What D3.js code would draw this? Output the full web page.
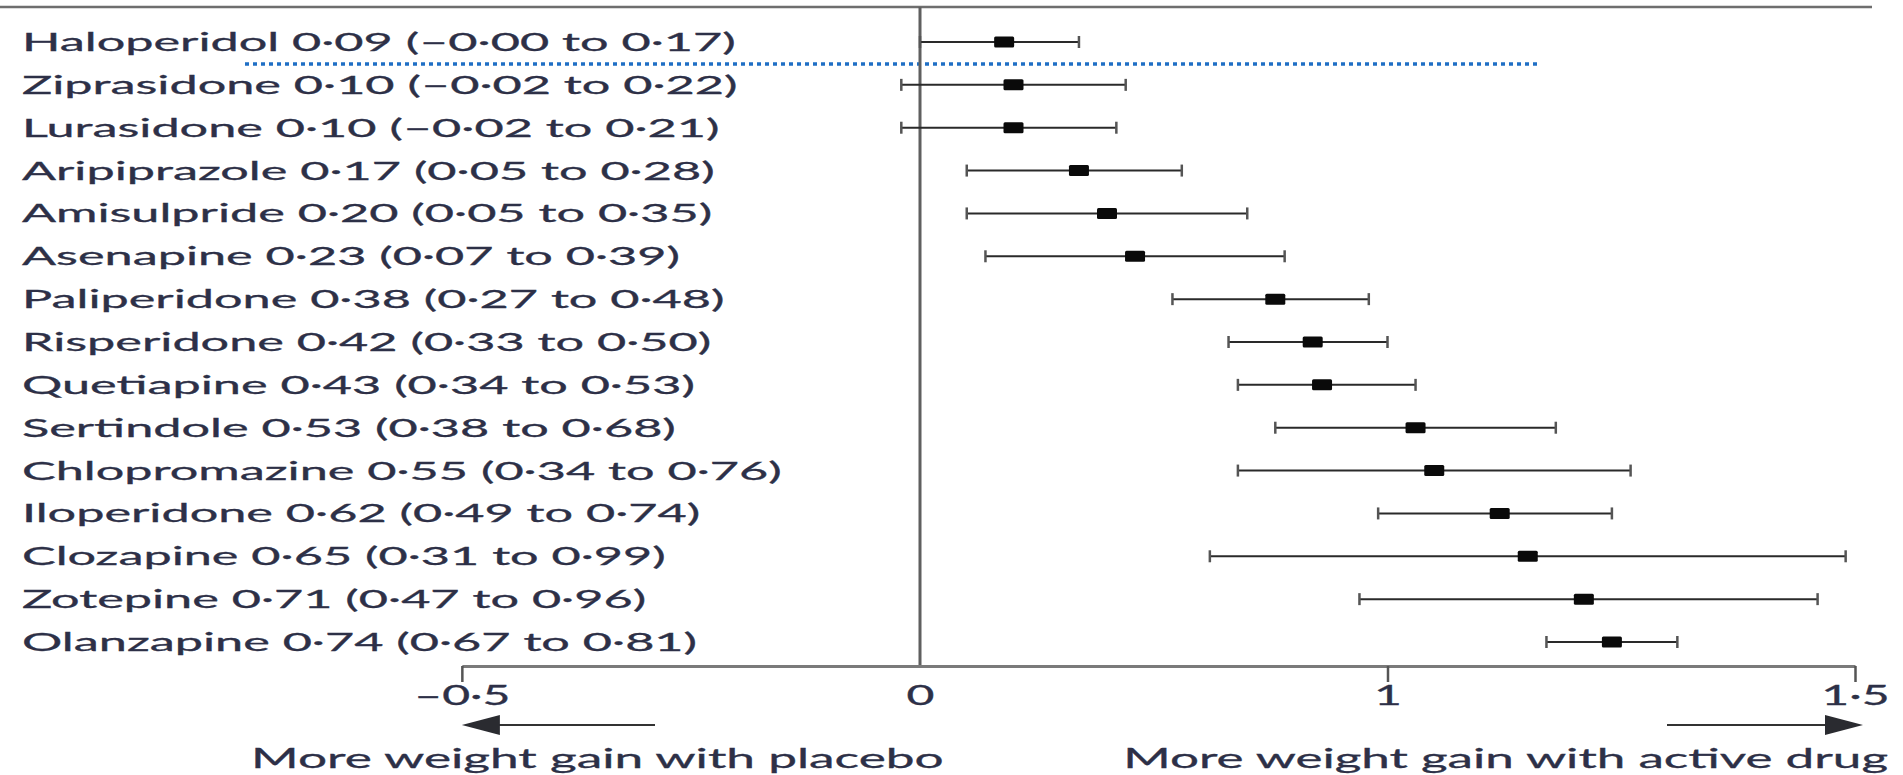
<!DOCTYPE html>
<html>
<head>
<meta charset="utf-8">
<script src="https://cdn.jsdelivr.net/npm/d3@7"></script>
<style>
  html, body { margin: 0; padding: 0; background: #ffffff; }
  svg { display: block; }
  text { font-family: Lato, "Open Sans", sans-serif; fill: #2d3047; stroke: #2d3047; stroke-width: 0.3px; }
</style>
</head>
<body>
<svg id="chart" width="1903" height="775"></svg>
<script>
// ---- data ----
const drugs = ["Haloperidol", "Ziprasidone", "Lurasidone", "Aripiprazole", "Amisulpride",
  "Asenapine", "Paliperidone", "Risperidone", "Quetiapine", "Sertindole",
  "Chlopromazine", "Iloperidone", "Clozapine", "Zotepine", "Olanzapine"];
const estimate = [0.09, 0.10, 0.10, 0.17, 0.20, 0.23, 0.38, 0.42, 0.43, 0.53, 0.55, 0.62, 0.65, 0.71, 0.74];
const lower    = [-0.00, -0.02, -0.02, 0.05, 0.05, 0.07, 0.27, 0.33, 0.34, 0.38, 0.34, 0.49, 0.31, 0.47, 0.67];
const upper    = [0.17, 0.22, 0.21, 0.28, 0.35, 0.39, 0.48, 0.50, 0.53, 0.68, 0.76, 0.74, 0.99, 0.96, 0.81];
const tickValues = [-0.49, 0, 0.5, 1];
const tickLabels = ["\u20130\u00b75", "0", "1", "1\u00b75"];
const leftNote = "More weight gain with placebo";
const rightNote = "More weight gain with active drug";

// ---- helpers ----
const fmt = v => ((v < 0 || Object.is(v, -0)) ? "\u2013" : "") + Math.abs(v).toFixed(2).replace(".", "\u00b7");
const rows = drugs.map((d, i) => ({ drug: d, est: estimate[i], lo: lower[i], hi: upper[i],
  label: `${d} ${fmt(estimate[i])} (${fmt(lower[i])} to ${fmt(upper[i])})` }));

const svg = d3.select("#chart");
const pxPerUnit = 935, zeroX = 920;
const x = d3.scaleLinear().domain([tickValues[0], tickValues[tickValues.length - 1]])
  .range([zeroX + tickValues[0] * pxPerUnit, zeroX + tickValues[tickValues.length - 1] * pxPerUnit]);
const y = d3.scalePoint().domain(drugs).range([42, 642]);
const axisY = 666, topY = 7;
const fontSize = 25;

// top rule
svg.append("line").attr("x1", 0).attr("x2", 1872).attr("y1", topY).attr("y2", topY)
  .attr("stroke", "#6e6e6e").attr("stroke-width", 2.5);

// highlight dotted line
const dotY = (y(drugs[0]) + y(drugs[1])) / 2 + 0.5;
svg.append("line").attr("x1", 245).attr("x2", 1538).attr("y1", dotY).attr("y2", dotY)
  .attr("stroke", "#1f6fc5").attr("stroke-width", 3.5).attr("stroke-dasharray", "4,4");

// zero line
svg.append("line").attr("x1", x(0)).attr("x2", x(0)).attr("y1", topY).attr("y2", axisY)
  .attr("stroke", "#5f5f5f").attr("stroke-width", 3);

// row labels, horizontally stretched like the reference
const labels = svg.append("g").selectAll("text").data(rows).join("text")
  .attr("font-size", fontSize)
  .text(d => d.label);
const sx = 714 / labels.node().getComputedTextLength();
labels.attr("transform", d => `translate(22,${y(d.drug) + 9}) scale(${sx},1)`);

// CI lines
const g = svg.append("g");
g.selectAll("line.ci").data(rows).join("line").attr("class", "ci")
  .attr("x1", d => x(d.lo)).attr("x2", d => x(d.hi))
  .attr("y1", d => y(d.drug)).attr("y2", d => y(d.drug))
  .attr("stroke", "#2a2a2a").attr("stroke-width", 2);
["lo", "hi"].forEach(k => {
  g.selectAll("line.cap" + k).data(rows).join("line").attr("class", "cap" + k)
    .attr("x1", d => x(d[k])).attr("x2", d => x(d[k]))
    .attr("y1", d => y(d.drug) - 6).attr("y2", d => y(d.drug) + 6)
    .attr("stroke", "#555").attr("stroke-width", 2.5);
});
g.selectAll("rect").data(rows).join("rect")
  .attr("x", d => x(d.est) - 10).attr("y", d => y(d.drug) - 5.5)
  .attr("width", 20).attr("height", 11).attr("rx", 1.5)
  .attr("fill", "#0a0a0a");

// x axis
const axis = d3.axisBottom(x).tickValues(tickValues).tickSize(16).tickSizeOuter(0)
  .tickFormat((d, i) => tickLabels[i]);
const ax = svg.append("g").attr("transform", `translate(0,${axisY})`).call(axis);
ax.select(".domain").attr("stroke", "#7a7a7a").attr("stroke-width", 3);
ax.selectAll(".tick line").attr("stroke", "#555").attr("stroke-width", 2.5)
  .attr("opacity", d => d === 0 ? 0 : 1);
ax.selectAll(".tick text").attr("font-size", 26).attr("font-family", "Lato, sans-serif")
  .attr("fill", "#2d3047").attr("y", 39).attr("dy", 0)
  .attr("transform", `scale(1.85,1)`);

// arrows
const arrowY = 725;
function arrow(x0, tip, dir) {
  svg.append("line").attr("x1", x0).attr("x2", tip - dir * 20).attr("y1", arrowY).attr("y2", arrowY)
    .attr("stroke", "#333").attr("stroke-width", 2);
  svg.append("path")
    .attr("d", `M${tip},${arrowY} L${tip - dir * 38},${arrowY - 10} L${tip - dir * 38},${arrowY + 10} Z`)
    .attr("fill", "#2a2b30");
}
arrow(655, x(tickValues[0]), -1);
arrow(1667, x(tickValues[tickValues.length - 1]) + 8, 1);

// notes
function note(txt, anchorX, anchor, width) {
  const t = svg.append("text").attr("font-size", 27).attr("text-anchor", anchor).text(txt);
  const s = width / t.node().getComputedTextLength();
  t.attr("transform", `translate(${anchorX},768) scale(${s},1)`);
}
note(leftNote, 251, "start", 693);
note(rightNote, 1888, "end", 765);
</script>
</body>
</html>
